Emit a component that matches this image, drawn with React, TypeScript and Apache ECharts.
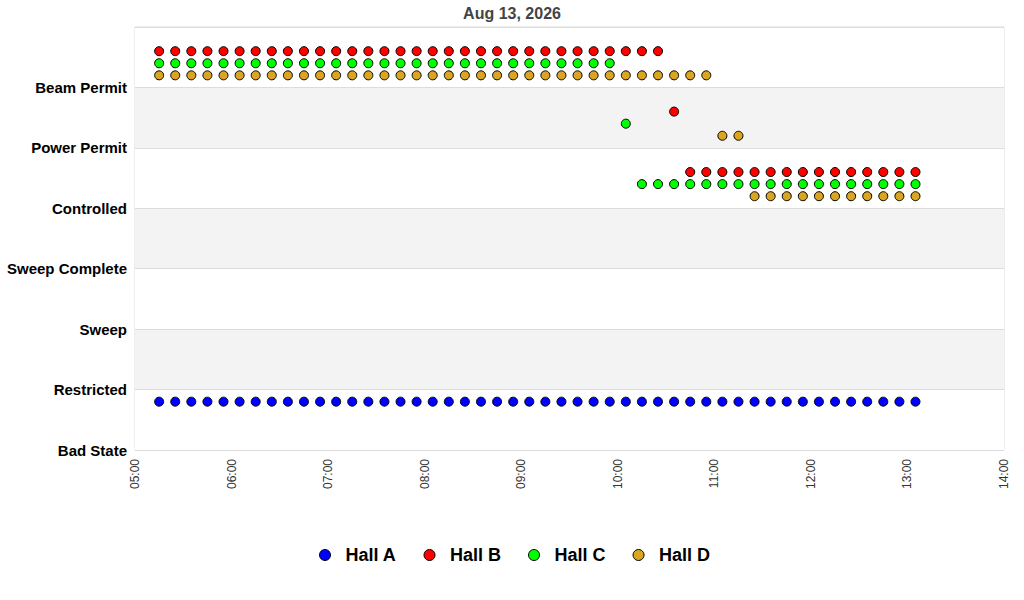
import React, { useEffect, useRef } from "react";
import * as echarts from "echarts";

const title = "Aug 13, 2026";

const states = [
  "Bad State",
  "Restricted",
  "Sweep",
  "Sweep Complete",
  "Controlled",
  "Power Permit",
  "Beam Permit",
];

const xTickMinutes = [300, 360, 420, 480, 540, 600, 660, 720, 780, 840];

const times = [
  "05:15", "05:25", "05:35", "05:45", "05:55",
  "06:05", "06:15", "06:25", "06:35", "06:45", "06:55",
  "07:05", "07:15", "07:25", "07:35", "07:45", "07:55",
  "08:05", "08:15", "08:25", "08:35", "08:45", "08:55",
  "09:05", "09:15", "09:25", "09:35", "09:45", "09:55",
  "10:05", "10:15", "10:25", "10:35", "10:45", "10:55",
  "11:05", "11:15", "11:25", "11:35", "11:45", "11:55",
  "12:05", "12:15", "12:25", "12:35", "12:45", "12:55",
  "13:05",
];

// state index per sample time (index into `states`)
const hallA = [
  0, 0, 0, 0, 0,
  0, 0, 0, 0, 0, 0,
  0, 0, 0, 0, 0, 0,
  0, 0, 0, 0, 0, 0,
  0, 0, 0, 0, 0, 0,
  0, 0, 0, 0, 0, 0,
  0, 0, 0, 0, 0, 0,
  0, 0, 0, 0, 0, 0,
  0,
];
const hallB = [
  6, 6, 6, 6, 6,
  6, 6, 6, 6, 6, 6,
  6, 6, 6, 6, 6, 6,
  6, 6, 6, 6, 6, 6,
  6, 6, 6, 6, 6, 6,
  6, 6, 6, 5, 4, 4,
  4, 4, 4, 4, 4, 4,
  4, 4, 4, 4, 4, 4,
  4,
];
const hallC = [
  6, 6, 6, 6, 6,
  6, 6, 6, 6, 6, 6,
  6, 6, 6, 6, 6, 6,
  6, 6, 6, 6, 6, 6,
  6, 6, 6, 6, 6, 6,
  5, 4, 4, 4, 4, 4,
  4, 4, 4, 4, 4, 4,
  4, 4, 4, 4, 4, 4,
  4,
];
const hallD = [
  6, 6, 6, 6, 6,
  6, 6, 6, 6, 6, 6,
  6, 6, 6, 6, 6, 6,
  6, 6, 6, 6, 6, 6,
  6, 6, 6, 6, 6, 6,
  6, 6, 6, 6, 6, 6,
  5, 5, 4, 4, 4, 4,
  4, 4, 4, 4, 4, 4,
  4,
];

const hallNames = ["Hall A", "Hall B", "Hall C", "Hall D"];
const hallColors = ["#0000ff", "#ff0000", "#00ff00", "#daa520"];
const hallOffsets = [0.8, 0.6, 0.4, 0.2];
const hallStates = [hallA, hallB, hallC, hallD];

const FONT = "'Liberation Sans', Arial, Helvetica, sans-serif";

function toMinutes(t: string): number {
  const [h, m] = t.split(":").map(Number);
  return h * 60 + m;
}

function fmtMinutes(v: number): string {
  const h = Math.floor(v / 60);
  const m = v % 60;
  return String(h).padStart(2, "0") + ":" + String(m).padStart(2, "0");
}

export default function App() {
  const ref = useRef<HTMLDivElement>(null);

  useEffect(() => {
    if (!ref.current) return;
    const chart = echarts.init(ref.current, undefined, { renderer: "svg" });

    const series = hallNames.map((name, i) => ({
      name,
      type: "scatter",
      symbol: "circle",
      symbolSize: 9,
      itemStyle: {
        color: hallColors[i],
        borderColor: "#000",
        borderWidth: 1,
        opacity: 1,
      },
      data: times.map((t, k) => [toMinutes(t), hallStates[i][k] + hallOffsets[i]]),
    }));

    chart.setOption({
      animation: false,
      backgroundColor: "#fff",
      title: {
        text: title,
        left: "center",
        top: 0,
        textStyle: {
          fontFamily: FONT,
          fontSize: 16,
          fontWeight: "bold",
          color: "#444",
        },
      },
      legend: {
        top: 541,
        left: 314,
        icon: "circle",
        itemWidth: 11,
        itemHeight: 11,
        itemGap: 27,
        data: hallNames.map((n, i) => ({
          name: n,
          itemStyle: { color: hallColors[i], borderColor: "#000", borderWidth: 1 },
        })),
        textStyle: {
          fontFamily: FONT,
          fontSize: 18,
          fontWeight: "bold",
          color: "#000",
          padding: [0, 0, 0, 10],
        },
      },
      grid: {
        left: 135,
        right: 20,
        top: 27,
        bottom: 150,
        show: true,
        borderColor: "#dcdcdc",
        borderWidth: 1,
        backgroundColor: "transparent",
      },
      xAxis: {
        type: "value",
        min: xTickMinutes[0],
        max: xTickMinutes[xTickMinutes.length - 1],
        interval: 60,
        axisLine: { show: false },
        axisTick: { show: false },
        splitLine: { show: false },
        axisLabel: {
          rotate: 90,
          margin: 9,
          fontFamily: FONT,
          fontSize: 12,
          color: "#333",
          formatter: (v: number) => fmtMinutes(v),
        },
      },
      yAxis: {
        type: "value",
        min: 0,
        max: states.length,
        interval: 1,
        axisLine: { show: false },
        axisTick: { show: false },
        splitLine: { show: true, lineStyle: { color: "#dcdcdc", width: 1 } },
        splitArea: { show: true, areaStyle: { color: ["#ffffff", "#f3f3f3"] } },
        axisLabel: {
          margin: 8,
          fontFamily: FONT,
          fontSize: 15,
          fontWeight: "bold",
          color: "#000",
          formatter: (v: number) => states[v] ?? "",
        },
      },
      series,
    });

    return () => chart.dispose();
  }, []);

  return (
    <div
      ref={ref}
      style={{ position: "absolute", left: 0, top: 0, width: 1024, height: 600 }}
    />
  );
}
